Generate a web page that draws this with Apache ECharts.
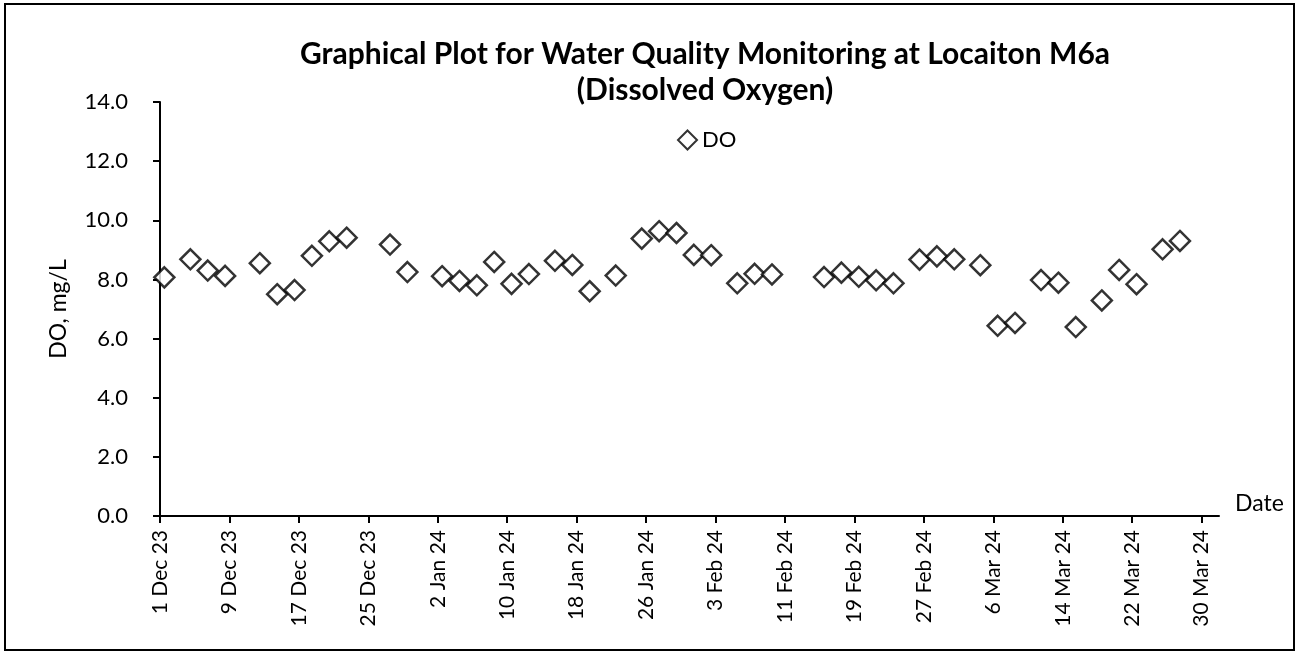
<!DOCTYPE html>
<html>
<head>
<meta charset="utf-8">
<title>Dissolved Oxygen – M6a</title>
<script src="https://cdn.jsdelivr.net/npm/echarts@6/dist/echarts.min.js"></script>
<style>
  html, body { margin: 0; padding: 0; background: #fff; }
  #chart { width: 1300px; height: 655px; }
</style>
</head>
<body>
<div id="chart"></div>
<script>
// Sampling times (midday) and measured dissolved oxygen, mg/L
const sampleTimes = [
  '2023-12-01T12:00', '2023-12-04T12:00', '2023-12-06T12:00', '2023-12-08T12:00',
  '2023-12-12T12:00', '2023-12-14T12:00', '2023-12-16T12:00', '2023-12-18T12:00',
  '2023-12-20T12:00', '2023-12-22T12:00', '2023-12-27T12:00', '2023-12-29T12:00',
  '2024-01-02T12:00', '2024-01-04T12:00', '2024-01-06T12:00', '2024-01-08T12:00',
  '2024-01-10T12:00', '2024-01-12T12:00', '2024-01-15T12:00', '2024-01-17T12:00',
  '2024-01-19T12:00', '2024-01-22T12:00', '2024-01-25T12:00', '2024-01-27T12:00',
  '2024-01-29T12:00', '2024-01-31T12:00', '2024-02-02T12:00', '2024-02-05T12:00',
  '2024-02-07T12:00', '2024-02-09T12:00', '2024-02-15T12:00', '2024-02-17T12:00',
  '2024-02-19T12:00', '2024-02-21T12:00', '2024-02-23T12:00', '2024-02-26T12:00',
  '2024-02-28T12:00', '2024-03-01T12:00', '2024-03-04T12:00', '2024-03-06T12:00',
  '2024-03-08T12:00', '2024-03-11T12:00', '2024-03-13T12:00', '2024-03-15T12:00',
  '2024-03-18T12:00', '2024-03-20T12:00', '2024-03-22T12:00', '2024-03-25T12:00',
  '2024-03-27T12:00'
];
const doValues = [
  8.07, 8.68, 8.30, 8.12,
  8.55, 7.50, 7.64, 8.80,
  9.29, 9.41, 9.18, 8.25,
  8.11, 7.95, 7.80, 8.59,
  7.85, 8.18, 8.63, 8.49,
  7.60, 8.13, 9.38, 9.63,
  9.57, 8.83, 8.82, 7.87,
  8.19, 8.17, 8.08, 8.23,
  8.09, 7.97, 7.87, 8.67,
  8.78, 8.68, 8.48, 6.43,
  6.53, 7.98, 7.89, 6.39,
  7.29, 8.32, 7.84, 9.02,
  9.30
];
// Date-axis tick labels (every 8 days)
const dateTicks = [
  '2023-12-01', '2023-12-09', '2023-12-17', '2023-12-25',
  '2024-01-02', '2024-01-10', '2024-01-18', '2024-01-26',
  '2024-02-03', '2024-02-11', '2024-02-19', '2024-02-27',
  '2024-03-06', '2024-03-14', '2024-03-22', '2024-03-30'
];
const axisStart = '2023-12-01';
const axisEnd = '2024-04-01';

const MONTHS = ['Jan','Feb','Mar','Apr','May','Jun','Jul','Aug','Sep','Oct','Nov','Dec'];
const DAY = 86400000;
function toUTC(s) {
  const [d, t] = s.split('T');
  const [y, m, dd] = d.split('-').map(Number);
  let h = 0, mi = 0;
  if (t) { [h, mi] = t.split(':').map(Number); }
  return Date.UTC(y, m - 1, dd, h, mi);
}
const origin = toUTC(axisStart);
const dayOf = s => (toUTC(s) - origin) / DAY;
function fmtDay(v) {
  const d = new Date(origin + Math.round(v) * DAY);
  return d.getUTCDate() + ' ' + MONTHS[d.getUTCMonth()] + ' ' + String(d.getUTCFullYear()).slice(2);
}

const points = sampleTimes.map((t, i) => [dayOf(t), doValues[i]]);
const tickDays = dateTicks.map(dayOf);

const FONT = 'Lato';
const chart = echarts.init(document.getElementById('chart'), null, { renderer: 'canvas' });
chart.setOption({
  backgroundColor: '#fff',
  animation: false,
  textStyle: { fontFamily: FONT, color: '#000' },
  title: {
    text: 'Graphical Plot for Water Quality Monitoring at Locaiton M6a\n(Dissolved Oxygen)',
    left: 700,
    top: 31,
    textAlign: 'center',
    textStyle: { fontFamily: FONT, fontWeight: 'bold', fontSize: 30, lineHeight: 36, color: '#000' }
  },
  legend: {
    data: ['DO'],
    left: 672,
    top: 124,
    icon: 'diamond',
    itemWidth: 19,
    itemHeight: 19,
    itemGap: 4,
    itemStyle: { color: '#fff', borderColor: '#000', borderWidth: 2 },
    textStyle: { fontFamily: FONT, fontSize: 22, color: '#000' }
  },
  grid: { left: 160, right: 81, top: 102, bottom: 139, containLabel: false },
  xAxis: {
    type: 'value',
    min: 0,
    max: dayOf(axisEnd),
    name: 'Date',
    nameLocation: 'end',
    nameGap: 16,
    nameTextStyle: { fontFamily: FONT, fontSize: 23, color: '#000', verticalAlign: 'bottom', padding: [0, 0, 1, 0] },
    splitLine: { show: false },
    axisLine: { lineStyle: { color: '#000', width: 2 } },
    axisTick: { show: true, length: 7, lineStyle: { color: '#000', width: 2 }, customValues: tickDays },
    axisLabel: {
      rotate: 90,
      margin: 14,
      fontFamily: FONT,
      fontSize: 21,
      color: '#000',
      customValues: tickDays,
      formatter: fmtDay
    }
  },
  yAxis: {
    type: 'value',
    min: 0,
    max: 14,
    interval: 2,
    name: 'DO, mg/L',
    nameLocation: 'middle',
    nameGap: 90,
    nameTextStyle: { fontFamily: FONT, fontSize: 23, color: '#000' },
    splitLine: { show: false },
    axisLine: { show: true, lineStyle: { color: '#000', width: 2 } },
    axisTick: { show: true, length: 7, lineStyle: { color: '#000', width: 2 } },
    axisLabel: {
      margin: 32,
      fontFamily: FONT,
      fontSize: 22,
      color: '#000',
      formatter: v => v.toFixed(1)
    }
  },
  series: [{
    name: 'DO',
    type: 'scatter',
    symbol: 'diamond',
    symbolSize: 20,
    itemStyle: { color: '#fff', borderColor: '#000', borderWidth: 2.5 },
    data: points
  }],
  graphic: [{
    type: 'rect',
    silent: true,
    shape: { x: 5, y: 4, width: 1289, height: 646 },
    style: { fill: 'none', stroke: '#000', lineWidth: 2 }
  }]
});
</script>
</body>
</html>
